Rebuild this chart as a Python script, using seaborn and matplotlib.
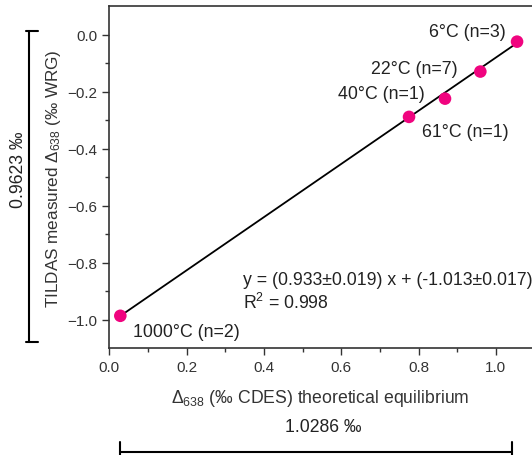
import numpy as np
import pandas as pd
import matplotlib
matplotlib.use("Agg")
import matplotlib.pyplot as plt
from matplotlib.lines import Line2D
import seaborn as sns

# Data
labels = ["1000°C (n=2)", "61°C (n=1)", "40°C (n=1)", "22°C (n=7)", "6°C (n=3)"]
x_theory = [0.0285, 0.7755, 0.8686, 0.960, 1.055]
y_measured = [-0.986, -0.288, -0.224, -0.129, -0.024]
fit_slope = 0.933
fit_intercept = -1.013
eq_text = "y = (0.933±0.019) x + (-1.013±0.017)"
r2_text = "R$^2$ = 0.998"
x_span_text = "1.0286 ‰"
y_span_text = "0.9623 ‰"

df = pd.DataFrame({"x": x_theory, "y": y_measured, "label": labels})
fit_df = pd.DataFrame({"x": [min(x_theory), max(x_theory)]})
fit_df["y"] = fit_slope * fit_df["x"] + fit_intercept

sns.set_style("ticks")
plt.rcParams["font.family"] = ["Liberation Sans", "DejaVu Sans"]
plt.rcParams["mathtext.fontset"] = "custom"
plt.rcParams["mathtext.rm"] = "Liberation Sans"
plt.rcParams["mathtext.it"] = "Liberation Sans"
plt.rcParams["mathtext.default"] = "regular"

W, H = 532, 456
fig = plt.figure(figsize=(W / 100, H / 100), dpi=100)
ax = fig.add_axes([109.3 / W, 1 - 349.3 / H, 1 - 109.3 / W, (349.3 - 7.3) / H])

sns.lineplot(data=fit_df, x="x", y="y", ax=ax, color="black", lw=1.3, zorder=2)
sns.scatterplot(data=df, x="x", y="y", ax=ax, color="#f0047f", s=82,
                edgecolor="none", zorder=3)

ax.set_xlim(0, (W - 109.3) / 386.5)
ax.set_ylim(-1.1, 0.1)
ax.set_xticks(np.arange(0, 1.01, 0.2))
ax.set_xticks(np.arange(0.1, 1.1, 0.2), minor=True)
ax.set_yticks(np.arange(-1.0, 0.01, 0.2))
ax.set_yticks(np.arange(-0.9, 0.1, 0.2), minor=True)
ax.xaxis.set_major_formatter(matplotlib.ticker.FuncFormatter(lambda v, p: f"{v:.1f}".replace("-", "−")))
ax.yaxis.set_major_formatter(matplotlib.ticker.FuncFormatter(lambda v, p: f"{v:.1f}".replace("-0.0", "0.0").replace("-", "−")))
ax.tick_params(axis="both", which="major", direction="out", length=5, width=1, labelsize=11, colors="#333333")
ax.tick_params(axis="both", which="minor", direction="out", length=3, width=1, colors="#333333")
for s in ["left", "bottom", "top"]:
    ax.spines[s].set_color("#333333")
    ax.spines[s].set_linewidth(1.2)
ax.spines["right"].set_visible(False)

ax.set_xlabel("Δ$_{638}$ (‰ CDES) theoretical equilibrium", fontsize=12.7, color="#333333", labelpad=9)
ax.set_ylabel("TILDAS measured Δ$_{638}$ (‰ WRG)", fontsize=12.3, color="#333333", labelpad=3)

# point labels (offsets in pixels)
offsets = {
    "1000°C (n=2)": (12.7, -15.7),
    "61°C (n=1)": (12.7, -15.0),
    "40°C (n=1)": (-107.0, 4.7),
    "22°C (n=7)": (-109.6, 2.7),
    "6°C (n=3)": (-88.0, 9.7),
}
for xi, yi, lab in zip(x_theory, y_measured, labels):
    dx, dy = offsets[lab]
    ax.annotate(lab, (xi, yi), xytext=(dx, dy), textcoords="offset pixels",
                fontsize=12.8, ha="left", va="center", color="#222222")

ax.text(242.7 / W, 1 - 281 / H, eq_text, transform=fig.transFigure, fontsize=12.7,
        ha="left", va="center", color="#222222")
ax.text(242.7 / W, 1 - 303 / H, r2_text, transform=fig.transFigure, fontsize=12.7,
        ha="left", va="center", color="#222222")

# brackets (figure pixel coordinates)
def fig_line(xs, ys):
    fig.add_artist(Line2D([x / W for x in xs], [1 - y / H for y in ys],
                          transform=fig.transFigure, color="black", lw=1.5))

fig_line([120, 511.7], [453, 453])
fig_line([120, 120], [443, 470])
fig_line([511.7, 511.7], [443, 470])
fig.text(323 / W, 1 - 428 / H, x_span_text, fontsize=12.7, ha="center", va="center", color="#222222")

fig_line([29.3, 29.3], [32, 343.3])
fig_line([25.5, 37.5], [32, 32])
fig_line([25.5, 37.5], [343.3, 343.3])
fig.text(18.3 / W, 1 - 170 / H, y_span_text, fontsize=12.7, ha="center", va="center",
         rotation=90, color="#222222")

fig.savefig("out.png", dpi=100)
